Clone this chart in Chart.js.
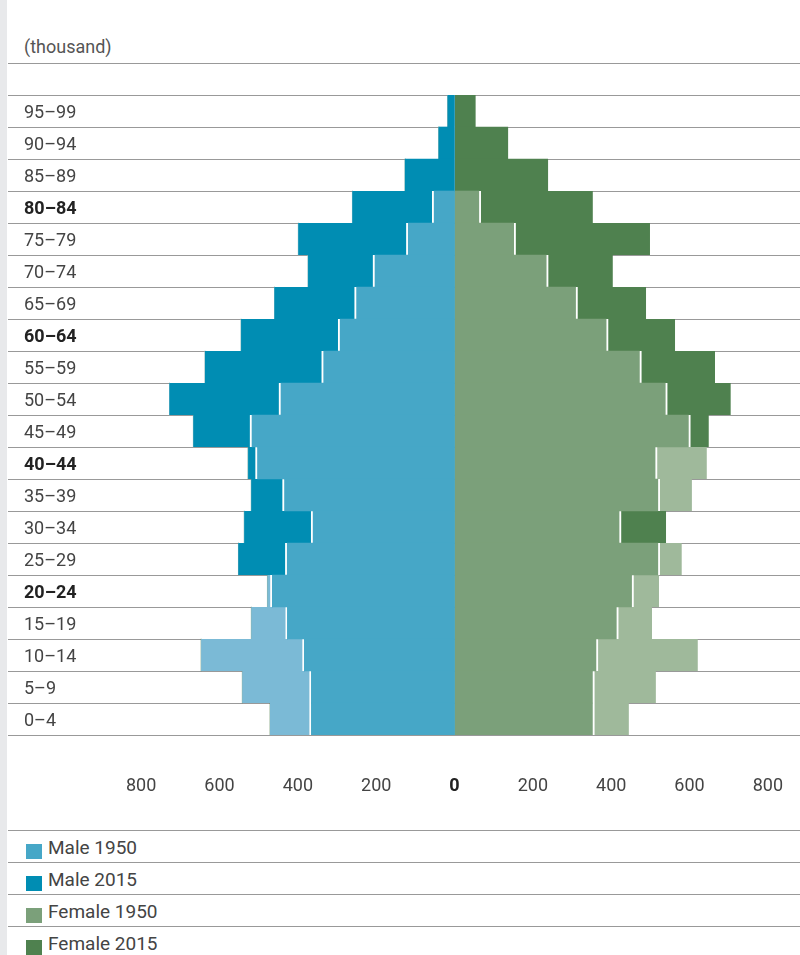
<!DOCTYPE html>
<html>
<head>
<meta charset="utf-8">
<script src="https://cdn.jsdelivr.net/npm/chart.js@4/dist/chart.umd.min.js"></script>
<style>
  body { margin: 0; background: #fff; font-family: "Liberation Sans Narrow", Roboto, sans-serif; color: #444; }
  #page { position: relative; width: 800px; height: 955px; overflow: hidden; }
  #strip { position: absolute; left: 0; top: 0; width: 7px; height: 955px; background: #e8e9eb; }
  #unit { position: absolute; left: 24px; top: 37px; font-size: 18px; line-height: 20px; color: #555; }
  #topline { position: absolute; left: 8px; right: 0; top: 63px; border-top: 1px solid #999; }
  #wrap { position: absolute; left: 0; top: 0; width: 800px; height: 830px; }
  #legend { position: absolute; left: 8px; right: 0; top: 830px; }
  .item { position: relative; height: 31px; border-top: 1px solid #999; font-size: 19px; line-height: 34px; padding-left: 40px; color: #444; }
  .sw { position: absolute; left: 18px; top: 13px; width: 16px; height: 15px; }
</style>
</head>
<body>
<div id="page">
  <div id="strip"></div>
  <div id="unit">(thousand)</div>
  <div id="topline"></div>
  <div id="wrap"><canvas id="pyramid"></canvas></div>
  <div id="legend"></div>
</div>
<script>
// age groups, top row first
var ageGroups = ['95–99', '90–94', '85–89', '80–84', '75–79', '70–74', '65–69', '60–64', '55–59', '50–54',
                 '45–49', '40–44', '35–39', '30–34', '25–29', '20–24', '15–19', '10–14', '5–9', '0–4'];
var boldGroups = ['80–84', '60–64', '40–44', '20–24'];

// population in thousands
var male1950   = [0, 0, 0, 52, 118, 203, 250, 292, 334, 443, 517, 503, 434, 361, 427, 478, 519, 647, 542, 471];
var male2015   = [17, 40, 126, 261, 399, 374, 460, 545, 637, 728, 667, 527, 519, 537, 552, 465, 426, 383, 365, 365];
var female1950 = [0, 0, 0, 62, 151, 234, 309, 387, 472, 538, 597, 644, 606, 420, 580, 522, 504, 621, 514, 445];
var female2015 = [53, 136, 238, 353, 499, 404, 489, 563, 665, 705, 649, 512, 519, 540, 519, 452, 413, 361, 352, 352];

var xTickValues = [-800, -600, -400, -200, 0, 200, 400, 600, 800];

var FONT = '"Liberation Sans Narrow", Roboto, sans-serif';
var colors = {
    male1950: '#46a7c7', male2015: '#008db3', male1950more: '#7bbad6',
    female1950: '#7ba07a', female2015: '#4f814f', female1950more: '#9fb99b'
};

function overlap(a, b) { return a.map(function(v, i) { return Math.min(v, b[i]); }); }
function excess(a, b) { return a.map(function(v, i) { return Math.max(0, v - b[i]); }); }
function neg(a) { return a.map(function(v) { return -v; }); }

var maleBoth = overlap(male1950, male2015);
var femaleBoth = overlap(female1950, female2015);

// white separator on the inner edge of the part that sticks out
function sep(both, side) {
    return function(ctx) {
        if (!(both[ctx.dataIndex] > 0)) return 0;
        var b = {top: 0, bottom: 0, left: 0, right: 0};
        b[side] = 2.5;
        return b;
    };
}

function bar(data, color, border) {
    return {
        data: data,
        backgroundColor: color,
        borderColor: '#ffffff',
        borderWidth: border || 0,
        borderSkipped: false,
        stack: 'p',
        barPercentage: 1,
        categoryPercentage: 1
    };
}

var datasets = [
    bar(neg(maleBoth), colors.male1950),
    bar(neg(excess(male2015, male1950)), colors.male2015, sep(maleBoth, 'right')),
    bar(neg(excess(male1950, male2015)), colors.male1950more, sep(maleBoth, 'right')),
    bar(femaleBoth, colors.female1950),
    bar(excess(female2015, female1950), colors.female2015, sep(femaleBoth, 'left')),
    bar(excess(female1950, female2015), colors.female1950more, sep(femaleBoth, 'left'))
];

var ctx = document.getElementById('pyramid').getContext('2d');
var chart = new Chart(ctx, {
    type: 'bar',
    data: { labels: ageGroups, datasets: datasets },
    options: {
        indexAxis: 'y',
        responsive: true,
        maintainAspectRatio: false,
        animation: false,
        layout: { padding: { top: 95, left: 8, right: 0, bottom: 0 } },
        plugins: { legend: { display: false }, tooltip: { enabled: false } },
        scales: {
            x: {
                type: 'linear',
                stacked: true,
                min: -1140,
                max: 882,
                grid: { display: false },
                border: { display: false },
                afterBuildTicks: function(axis) {
                    axis.ticks = xTickValues.map(function(v) { return { value: v }; });
                },
                afterFit: function(axis) {
                    axis.height = 95;
                    axis.paddingLeft = 0;
                    axis.paddingRight = 0;
                },
                ticks: {
                    padding: 33,
                    maxRotation: 0,
                    autoSkip: false,
                    color: function(c) { return c.tick && c.tick.value === 0 ? '#222' : '#444'; },
                    font: function(c) {
                        return { family: FONT, size: 18, weight: (c.tick && c.tick.value === 0) ? 'bold' : 'normal' };
                    },
                    callback: function(v) { return Math.abs(v); }
                }
            },
            y: {
                stacked: true,
                z: 1,
                grid: { color: '#999', lineWidth: 1, drawTicks: false, offset: true },
                border: { display: false },
                afterFit: function(axis) { axis.width = 0; },
                ticks: {
                    mirror: true,
                    padding: 16,
                    labelOffset: 2,
                    autoSkip: false,
                    color: function(c) { return boldGroups.indexOf(ageGroups[c.index]) >= 0 ? '#222' : '#444'; },
                    font: function(c) {
                        var b = boldGroups.indexOf(ageGroups[c.index]) >= 0;
                        return { family: FONT, size: 18, weight: b ? 'bold' : 'normal' };
                    }
                }
            }
        }
    }
});

// legend rows
var legendItems = [
    ['Male 1950', colors.male1950],
    ['Male 2015', colors.male2015],
    ['Female 1950', colors.female1950],
    ['Female 2015', colors.female2015]
];
var legend = document.getElementById('legend');
legendItems.forEach(function(it) {
    var row = document.createElement('div');
    row.className = 'item';
    var sw = document.createElement('span');
    sw.className = 'sw';
    sw.style.background = it[1];
    row.appendChild(sw);
    row.appendChild(document.createTextNode(it[0]));
    legend.appendChild(row);
});
</script>
</body>
</html>
